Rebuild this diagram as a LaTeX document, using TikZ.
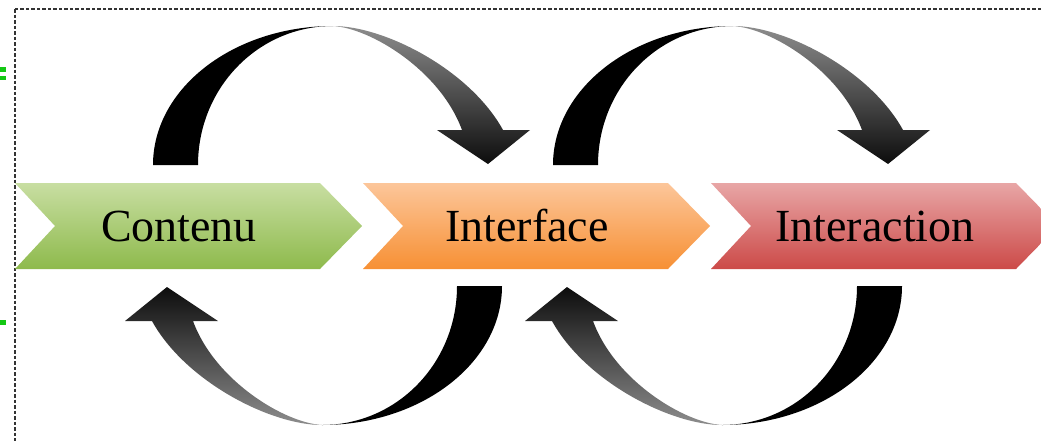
\documentclass[tikz,border=0pt]{standalone}
\usepackage{fontspec}
\setmainfont{Liberation Serif}
\definecolor{greenT}{RGB}{200,222,162}
\definecolor{greenB}{RGB}{142,186,76}
\definecolor{orangeT}{RGB}{252,198,154}
\definecolor{orangeB}{RGB}{247,144,52}
\definecolor{redT}{RGB}{232,166,166}
\definecolor{redB}{RGB}{204,74,72}
\definecolor{markgreen}{RGB}{20,200,20}

\begin{document}
\begin{tikzpicture}[x=1pt,y=-1pt,
		steplabel/.style={font=\fontsize{46}{50}\selectfont,anchor=base,inner sep=0pt},
		backband/.style={fill=black},
		frontband/.style={top color=black!45,bottom color=black!95}]
	\useasboundingbox (0,0) rectangle (1041,440);
	\clip (0,0) rectangle (1041,440);

	\draw[black!80,line width=1.2pt,dash pattern=on 3.5pt off 2pt] (15,9) rectangle (1080,480);
	\fill[markgreen] (0,67) rectangle (6,72);
	\fill[markgreen] (0,76) rectangle (6,80);
	\fill[markgreen] (0,320) rectangle (6,325);

	\foreach \x/\n/\t/\ct/\cb in {15/cont/Contenu/greenT/greenB,363/intf/Interface/orangeT/orangeB,711/intr/Interaction/redT/redB} {
		\shade[top color=\ct,bottom color=\cb] (\x,183) -- ++(305,0) -- ++(42,43) -- ++(-42,43) -- ++(-305,0) -- ++(40,-43) -- cycle;
		\node[steplabel] (\n) at (\x+164,241) {\t};
	}

	\foreach \o in {0,400} {
		\foreach \r in {0,180} {
			\begin{scope}[xshift=\o,rotate around={\r:(327.5,225.5)}]
				\fill[backband] (153,165) .. controls (153,88) and (234,26) .. (333,26) .. controls (258,26) and (198,88) .. (198,165) -- cycle;
				\shade[frontband,shading angle=\r] (333,26) .. controls (385,26) and (470,70) .. (503,130) -- (530,130) -- (488,164) -- (437,130) -- (462,130) .. controls (440,70) and (370,28) .. (333,26) -- cycle;
			\end{scope}
		}
	}
\end{tikzpicture}
\end{document}
